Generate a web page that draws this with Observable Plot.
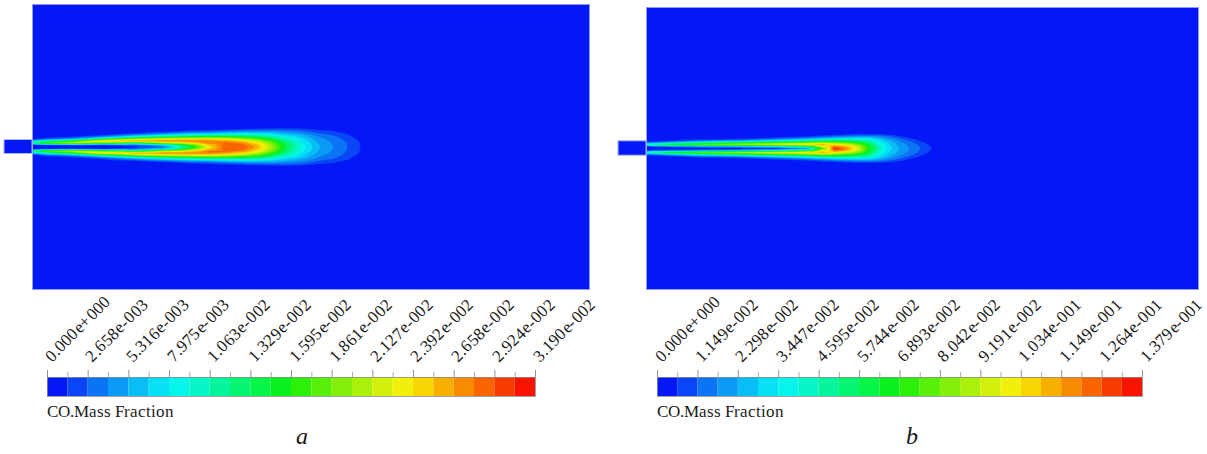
<!DOCTYPE html>
<html><head><meta charset="utf-8">
<script src="https://cdn.jsdelivr.net/npm/d3@7"></script>
<script src="https://cdn.jsdelivr.net/npm/@observablehq/plot@0.6"></script>
<style>
@font-face{font-family:"RefSerif";font-style:normal;src:local("Liberation Serif"),local("LiberationSerif"),local("LiberationSerif-Regular"),local("Times New Roman"),local("DejaVu Serif"),local("DejaVuSerif");}
@font-face{font-family:"RefSerif";font-style:italic;src:local("Liberation Serif Italic"),local("LiberationSerif-Italic"),local("Times New Roman Italic"),local("DejaVu Serif Italic"),local("DejaVuSerif-Italic");}
html,body{margin:0;padding:0;background:#fff;}
#root{position:relative;width:1207px;height:454px;overflow:hidden;font-family:"RefSerif","Liberation Serif","Times New Roman",Times,"DejaVu Serif",serif;}
.abs{position:absolute;}
.lbl{font-size:17px;line-height:17px;color:#1a1a1a;white-space:nowrap;}
.cap{font-size:24px;line-height:24px;font-style:italic;color:#1a1a1a;}
</style></head><body><div id="root"></div>
<script>
const serif = '"RefSerif","Liberation Serif","Times New Roman",Times,"DejaVu Serif",serif';
// ---- band colours (24 legend intervals) ----
const bandColors = ["#0418f6","#0a46f5","#0a74f5","#0a9af5","#08bef5","#05e0f5","#05f5ea","#05f5c6","#05f59c","#05f572","#05f548","#0af01e","#2cf00a","#58f00a","#82f00a","#aaf00a","#d2f00a","#f2f00a","#f8d600","#f8b000","#f88a00","#f86400","#f83c00","#f81400"];

// ---- legend tick labels ----
const labelsA = ["0.000e+000","2.658e-003","5.316e-003","7.975e-003","1.063e-002","1.329e-002","1.595e-002","1.861e-002","2.127e-002","2.392e-002","2.658e-002","2.924e-002","3.190e-002"];
const labelsB = ["0.000e+000","1.149e-002","2.298e-002","3.447e-002","4.595e-002","5.744e-002","6.893e-002","8.042e-002","9.191e-002","1.034e-001","1.149e-001","1.264e-001","1.379e-001"];

// ---- geometry (pixel-like units, x from chamber wall, y from axis) ----
const chamberA = {x: [0, 557], y: [-142.5, 142.5]};
const chamberB = {x: [0, 552], y: [-141, 141]};
const nozzleA = {x1: -28, x2: 0, y1: -7, y2: 7};
const nozzleB = {x1: -28, x2: 0, y1: -7.2, y2: 7.2};

// ---- CO field samples, in legend-interval units (value / (max/24)) ----
const stationsA = [0, 15, 40, 70, 100, 130, 155, 175, 195, 210, 225, 240, 255, 270, 285, 300, 315, 325, 335, 345];
const offsetsA = [0, 2, 4, 6, 8, 10, 12, 14, 16, 18, 20, 24];
const levelsA = [
  [0, 0, 10, 5, 0.5, 0, 0, 0, 0, 0, 0, 0],
  [0, 1, 14, 8, 2.5, 0.3, 0, 0, 0, 0, 0, 0],
  [0, 1.5, 16, 12, 4, 1.2, 0.2, 0, 0, 0, 0, 0],
  [0, 1, 13, 19, 10, 3.5, 1, 0, 0, 0, 0, 0],
  [0.5, 2, 10, 20, 15, 7.5, 3, 0.7, 0, 0, 0, 0],
  [2, 5, 15, 21, 17, 10.5, 5.5, 2, 0.4, 0, 0, 0],
  [9, 12, 18, 21, 17.5, 12, 7, 3.5, 1.2, 0.2, 0, 0],
  [17, 18.5, 21, 21, 18, 12.5, 7.5, 4, 1.5, 0.3, 0, 0],
  [22, 22, 21.5, 20, 17, 12.5, 8, 4.8, 2.3, 0.6, 0, 0],
  [22, 21.5, 20.5, 18.5, 15.5, 11.5, 8, 5.2, 2.8, 0.9, 0, 0],
  [19.5, 19, 18, 16, 13.5, 10.5, 7.5, 5, 3, 1.2, 0.1, 0],
  [15, 14.7, 14, 12.5, 10.5, 8.5, 6.5, 4.6, 3.1, 1.4, 0.3, 0],
  [10, 9.8, 9.3, 8.5, 7.5, 6.3, 5, 3.8, 2.6, 1.4, 0.3, 0],
  [6.5, 6.4, 6.2, 5.8, 5.3, 4.7, 4, 3.1, 2.2, 1.2, 0.1, 0],
  [4.2, 4.15, 4, 3.8, 3.5, 3.1, 2.6, 2, 1.4, 0.6, 0, 0],
  [3.05, 3, 2.9, 2.75, 2.55, 2.3, 1.95, 1.5, 1.05, 0.4, 0, 0],
  [2, 1.98, 1.92, 1.8, 1.65, 1.45, 1.2, 0.7, 0.2, 0, 0, 0],
  [1.3, 1.28, 1.2, 1.1, 0.9, 0.6, 0.2, 0, 0, 0, 0, 0],
  [0.3, 0.25, 0.2, 0.1, 0, 0, 0, 0, 0, 0, 0, 0],
  [0, 0, 0, 0, 0, 0, 0, 0, 0, 0, 0, 0]
];
const stationsB = [0, 20, 50, 90, 130, 160, 175, 188, 200, 212, 222, 232, 242, 254, 266, 276, 286, 294];
const offsetsB = [0, 2, 4, 6, 8, 10, 12, 14, 16, 20];
const levelsB = [
  [0, 1, 8, 2, 0, 0, 0, 0, 0, 0],
  [0, 2, 12, 4, 0.5, 0, 0, 0, 0, 0],
  [0, 3, 14, 7, 2, 0.3, 0, 0, 0, 0],
  [0, 4, 16, 10, 3, 0.5, 0, 0, 0, 0],
  [0.3, 6, 18, 12, 5.5, 2, 0.3, 0, 0, 0],
  [2, 10, 19, 13.5, 7.5, 3.5, 1, 0, 0, 0],
  [12, 17, 20, 15, 9, 4.5, 1.8, 0.3, 0, 0],
  [23.5, 21, 18, 14, 9.5, 5.5, 2.5, 0.6, 0, 0],
  [20.5, 19.5, 16.5, 13, 9.5, 6, 3, 0.9, 0, 0],
  [16.5, 16, 14, 11.5, 8.7, 6, 3.5, 1.3, 0, 0],
  [12, 11.7, 10.8, 9.3, 7.6, 5.6, 3.5, 1.2, 0, 0],
  [8, 7.8, 7.3, 6.6, 5.7, 4.5, 3, 1.1, 0, 0],
  [5.5, 5.4, 5.1, 4.7, 4.1, 3.3, 2.2, 0.8, 0, 0],
  [3.8, 3.7, 3.5, 3.2, 2.7, 2.0, 1.1, 0.2, 0, 0],
  [2.7, 2.6, 2.4, 2.1, 1.6, 0.9, 0.2, 0, 0, 0],
  [1.8, 1.75, 1.55, 1.2, 0.6, 0, 0, 0, 0, 0],
  [0.9, 0.8, 0.6, 0.3, 0, 0, 0, 0, 0, 0],
  [0, 0, 0, 0, 0, 0, 0, 0, 0, 0]
];

// ---- builders ----
function edgesOf(labels) {
  const max = Number(labels[labels.length - 1]);
  return d3.range(25).map(i => i * max / 24);
}
function fieldPoints(stations, offsets, levels, edges, chamber) {
  const unit = edges[1];
  const pts = [];
  stations.forEach((x, i) => offsets.forEach((d, j) => {
    const v = levels[i][j] * unit;
    pts.push({x, y: d, v});
    if (d > 0) pts.push({x, y: -d, v});
  }));
  const [x0, x1] = chamber.x, [y0, y1] = chamber.y;
  const xm = (x0 + x1) / 2;
  [[x0, y0], [x0, y1], [x1, y0], [x1, y1], [x1, 0], [xm, y0], [xm, y1], [x0, y0 / 2], [x0, y1 / 2]]
    .forEach(([x, y]) => pts.push({x, y, v: 0}));
  return pts;
}
function fieldPlot(pts, chamber, nozzle, edges, m) {
  const thresholds = edges.slice(1, 24);
  return Plot.plot({
    width: m.width, height: 300,
    marginLeft: m.left, marginRight: m.right, marginTop: m.top, marginBottom: m.bottom,
    x: {domain: chamber.x, axis: null},
    y: {domain: chamber.y, axis: null},
    color: {type: "threshold", domain: thresholds, range: bandColors},
    style: {background: "transparent", overflow: "visible"},
    marks: [
      Plot.frame({fill: bandColors[0], stroke: "none"}),
      Plot.contour(pts, {x: "x", y: "y", fill: "v", interpolate: "barycentric", thresholds, pixelSize: 0.5, stroke: "none"}),
      Plot.frame({stroke: "#8e9bf3", strokeWidth: 1}),
      Plot.rect([nozzle], {x1: "x1", x2: "x2", y1: "y1", y2: "y2", fill: bandColors[0], stroke: "#aab5f6", strokeWidth: 1})
    ]
  });
}
function legendPlot(labels, edges, m) {
  const bins = d3.range(24).map(i => ({x1: edges[i], x2: edges[i + 1], c: bandColors[i]}));
  const major = edges.filter((e, i) => i % 2 === 0);
  const minor = edges.filter((e, i) => i % 2 === 1);
  return Plot.plot({
    width: m.width, height: 130,
    marginLeft: m.left, marginRight: m.right, marginTop: 97, marginBottom: 14,
    x: {domain: [edges[0], edges[24]], axis: null},
    y: {domain: [0, 1], axis: null},
    color: {type: "identity"},
    style: {background: "transparent", overflow: "visible", fontFamily: serif},
    marks: [
      Plot.rect(bins, {x1: "x1", x2: "x2", y1: 0, y2: 1, fill: "c"}),
      Plot.frame({stroke: "#8a8a8a", strokeWidth: 0.8}),
      Plot.ruleX(major, {y1: 1, y2: 1.37, stroke: "#777", strokeWidth: 0.8}),
      Plot.ruleX(minor, {y1: 1, y2: 1.27, stroke: "#999", strokeWidth: 0.8}),
      Plot.text(labels, {x: d => Number(d), y: 1, text: d => d, rotate: -45, textAnchor: "start", lineAnchor: "bottom",
        dx: 4, dy: -15, fontSize: 17, fontFamily: serif, fill: "#1a1a1a"})
    ]
  });
}
function place(node, left, top) {
  const div = document.createElement("div");
  div.className = "abs";
  div.style.left = left + "px";
  div.style.top = top + "px";
  div.appendChild(node);
  document.getElementById("root").appendChild(div);
  return div;
}
function label(text, cls, left, top) {
  const div = document.createElement("div");
  div.className = "abs " + cls;
  div.style.left = left + "px";
  div.style.top = top + "px";
  div.textContent = text;
  document.getElementById("root").appendChild(div);
}

const edgesA = edgesOf(labelsA), edgesB = edgesOf(labelsB);
place(fieldPlot(fieldPoints(stationsA, offsetsA, levelsA, edgesA, chamberA), chamberA, nozzleA, edgesA,
  {width: 600, left: 32, right: 11, top: 4, bottom: 11}), 0, 0);
place(fieldPlot(fieldPoints(stationsB, offsetsB, levelsB, edgesB, chamberB), chamberB, nozzleB, edgesB,
  {width: 607, left: 46, right: 9, top: 7, bottom: 11}), 600, 0);
place(legendPlot(labelsA, edgesA, {width: 600, left: 47, right: 65}), 0, 280);
place(legendPlot(labelsB, edgesB, {width: 607, left: 57, right: 65}), 600, 280);
label("CO.Mass Fraction", "lbl", 47, 403);
label("CO.Mass Fraction", "lbl", 657, 403);
label("a", "cap", 296, 424);
label("b", "cap", 906, 424);
</script></body></html>
